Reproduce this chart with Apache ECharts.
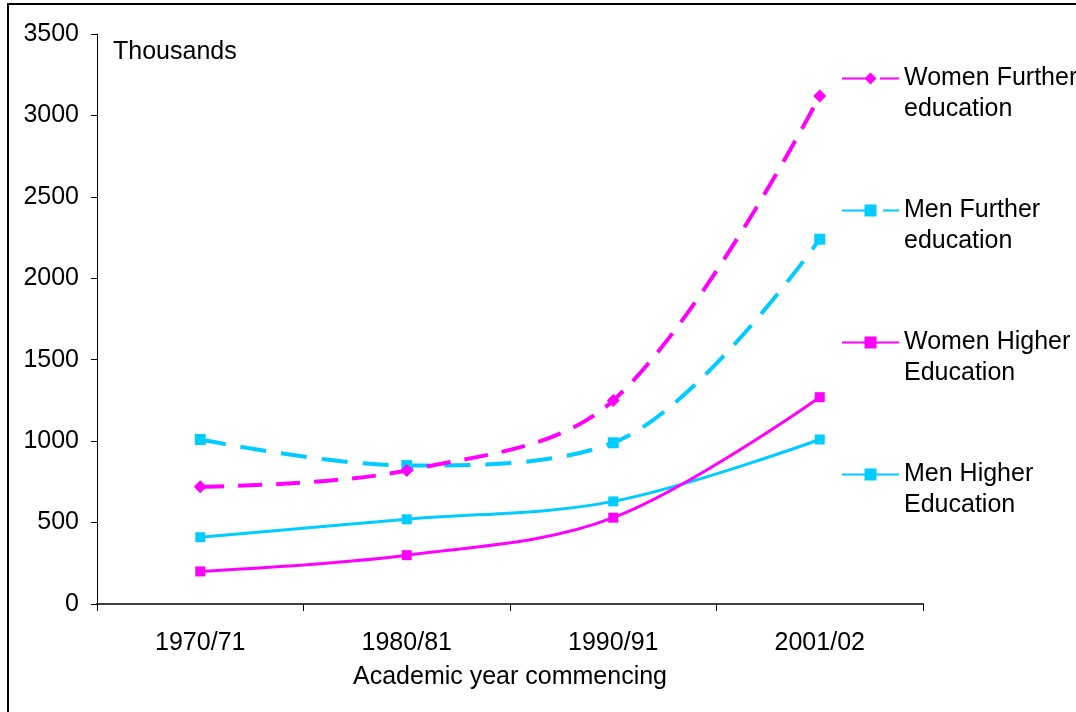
<!DOCTYPE html>
<html>
<head>
<meta charset="utf-8">
<script src="https://cdn.jsdelivr.net/npm/echarts@6/dist/echarts.min.js"></script>
<style>
  html, body { margin: 0; padding: 0; background: #fff; }
  #chart { width: 1076px; height: 712px; }
</style>
</head>
<body>
<div id="chart"></div>
<script>
// Academic years shown on the category axis
const years = ['1970/71', '1980/81', '1990/91', '2001/02'];

// Enrolments, thousands
const womenFurther = [720, 820, 1250, 3120];
const menFurther   = [1010, 850, 990, 2240];
const womenHigher  = [200, 300, 530, 1270];
const menHigher    = [410, 520, 630, 1010];

// Value axis ticks
const yMin = 0, yMax = 3500, yStep = 500;

const MAGENTA = '#FF00FF';
const CYAN = '#00CCFF';
const FONT = '"Liberation Sans", Arial, sans-serif';

const chart = echarts.init(document.getElementById('chart'), null, { renderer: 'canvas' });

function line(name, data, color, width, dashed, symbol, size) {
  return {
    name: name,
    type: 'line',
    data: data,
    smooth: 0.35,
    symbol: symbol,
    symbolSize: size,
    showAllSymbol: true,
    lineStyle: { color: color, width: width, type: dashed ? dashed : 'solid' },
    itemStyle: { color: color },
    emphasis: { disabled: true },
    animation: false
  };
}

// Legend labels wrap onto two lines; a blank leading line keeps the
// first text line level with the legend icon.
function legendLabel(name) {
  const cut = name.lastIndexOf(' ');
  return ' \n' + name.slice(0, cut) + '\n' + name.slice(cut + 1);
}

chart.setOption({
  backgroundColor: '#ffffff',
  animation: false,
  grid: { left: 97, right: 153, top: 34, bottom: 108, containLabel: false },
  xAxis: {
    type: 'category',
    data: years,
    boundaryGap: true,
    name: 'Academic year commencing',
    nameLocation: 'middle',
    nameGap: 61,
    nameTextStyle: { fontFamily: FONT, fontSize: 25, color: '#000' },
    axisLine: { show: true, lineStyle: { color: '#404040', width: 2 } },
    axisTick: { show: true, length: 7, lineStyle: { color: '#000', width: 1 } },
    axisLabel: { fontFamily: FONT, fontSize: 25, color: '#000', margin: 27 },
    splitLine: { show: false }
  },
  yAxis: {
    type: 'value',
    min: yMin, max: yMax, interval: yStep,
    axisLine: { show: true, lineStyle: { color: '#000', width: 1 } },
    axisTick: { show: true, length: 6, lineStyle: { color: '#000', width: 1 } },
    axisLabel: {
      fontFamily: FONT, fontSize: 25, color: '#000', margin: 18,
      formatter: function (v) { return String(v); }
    },
    splitLine: { show: false }
  },
  legend: {
    orient: 'vertical',
    left: 841,
    top: 32,
    padding: 0,
    itemWidth: 57,
    itemHeight: 15,
    itemGap: 39,
    selectedMode: false,
    formatter: legendLabel,
    textStyle: { fontFamily: FONT, fontSize: 25, color: '#000', lineHeight: 31 },
    data: ['Women Further education', 'Men Further education', 'Women Higher Education', 'Men Higher Education']
  },
  graphic: [
    {
      type: 'rect',
      shape: { x: 8, y: 4, width: 2000, height: 2000 },
      style: { fill: 'none', stroke: '#000', lineWidth: 2 },
      silent: true
    },
    {
      type: 'text',
      left: 113, top: 40,
      style: { text: 'Thousands', font: '25px ' + FONT, fill: '#000' },
      silent: true
    }
  ],
  series: [
    line('Men Higher Education', menHigher, CYAN, 3, null, 'rect', 10),
    line('Women Higher Education', womenHigher, MAGENTA, 3, null, 'rect', 10),
    line('Men Further education', menFurther, CYAN, 4, [26, 15], 'rect', 11),
    line('Women Further education', womenFurther, MAGENTA, 4, [24, 14], 'diamond', 13)
  ]
});
</script>
</body>
</html>
